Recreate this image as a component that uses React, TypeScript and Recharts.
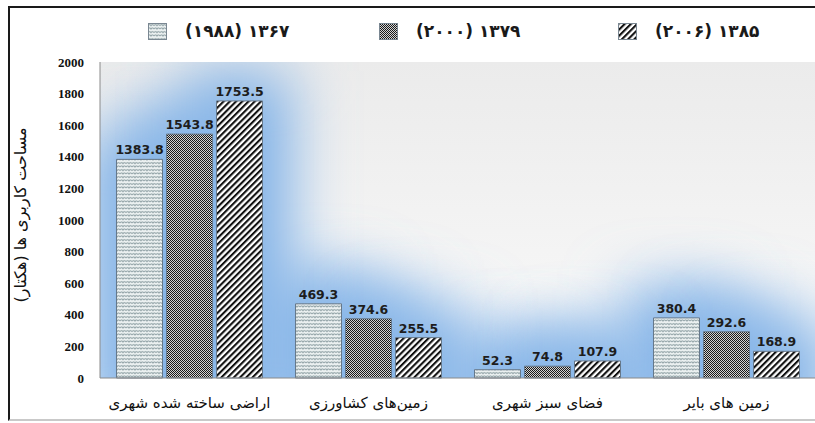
import { BarChart, Bar, XAxis, YAxis, CartesianGrid, LabelList } from 'recharts';

const categories = ['اراضی ساخته شده شهری', 'زمین‌های کشاورزی', 'فضای سبز شهری', 'زمین های بایر'];
const values1367 = [1383.8, 469.3, 52.3, 380.4];
const values1379 = [1543.8, 374.6, 74.8, 292.6];
const values1385 = [1753.5, 255.5, 107.9, 168.9];
const seriesNames = ['(۱۹۸۸) ۱۳۶۷', '(۲۰۰۰) ۱۳۷۹', '(۲۰۰۶) ۱۳۸۵'];
const yTicks = [0, 200, 400, 600, 800, 1000, 1200, 1400, 1600, 1800, 2000];
const yLabel = 'مساحت کاربری ها (هکتار)';

const data = categories.map((name, i) => ({
  name,
  s1: values1367[i],
  s2: values1379[i],
  s3: values1385[i],
}));

const PATTERNS = ['url(#pWave)', 'url(#pCheck)', 'url(#pDiag)'];
const KEYS = ['s1', 's2', 's3'];

const W = 830;
const H = 423;
const MARGIN = { top: 62, right: 14, bottom: 15, left: 40 };
const Y_W = 60;
const X_H = 30;

// soft blue glow behind each bar (excel "glow" effect)
function GlowShape(props: any) {
  const { x, y, width, height, index, tag } = props;
  if (width == null || height == null) return null;
  const id = `glow-${tag}-${index}`;
  const pad = 200;
  return (
    <g>
      <defs>
        <filter id={id} filterUnits="userSpaceOnUse" x={x - pad} y={y - pad} width={width + pad * 2} height={height + pad * 2}>
          <feGaussianBlur stdDeviation={30} />
        </filter>
      </defs>
      <rect x={x - 30} y={y - 30} width={width + 60} height={height + 80} fill="#86b5e8" filter={`url(#${id})`} />
    </g>
  );
}

function Swatch({ fill }: { fill: string }) {
  return (
    <svg width={19} height={17} style={{ display: 'block' }}>
      <defs>
        <Patterns />
      </defs>
      <rect x={0.5} y={0.5} width={18} height={16} fill={fill} stroke="#7a8792" />
    </svg>
  );
}

function Patterns() {
  return (
    <>
      <pattern id="pWave" width={6} height={3.5} patternUnits="userSpaceOnUse">
        <rect width={6} height={3.5} fill="#eef3f3" />
        <path d="M0 2.6 Q1.5 0.4 3 2.6 Q4.5 0.4 6 2.6" stroke="#7b8f94" strokeWidth={0.9} fill="none" />
      </pattern>
      <pattern id="pCheck" width={2} height={2} patternUnits="userSpaceOnUse">
        <rect width={2} height={2} fill="#d2d2d2" />
        <rect width={1} height={1} fill="#1a1a1a" />
        <rect x={1} y={1} width={1} height={1} fill="#1a1a1a" />
      </pattern>
      <pattern id="pDiag" width={4.4} height={4.4} patternUnits="userSpaceOnUse" patternTransform="rotate(45)">
        <rect width={4.4} height={4.4} fill="#ffffff" />
        <rect width={2.1} height={4.4} fill="#111111" />
      </pattern>
    </>
  );
}

const legendLeft = [148, 379, 618];

export default function App() {
  const plotClip = `inset(${MARGIN.top}px ${MARGIN.right}px ${MARGIN.bottom + X_H}px ${MARGIN.left + Y_W}px)`;
  return (
    <div style={{ position: 'absolute', left: 0, top: 0, width: 815, height: 423, overflow: 'hidden', background: '#fff' }}>
      <div
        style={{
          position: 'absolute',
          left: 8,
          top: 6,
          width: 820,
          height: 411,
          borderTop: '2px solid #1a1a1a',
          borderLeft: '2px solid #1a1a1a',
          borderBottom: '2px solid #c9c9c9',
        }}
      />
      {seriesNames.map((s, i) => (
        <div
          key={s}
          style={{ position: 'absolute', left: legendLeft[i], top: 21, display: 'flex', alignItems: 'center', gap: 18 }}
        >
          <Swatch fill={PATTERNS[i]} />
          <span style={{ fontFamily: 'DejaVu Sans', fontSize: 17, fontWeight: 600, color: '#1a1a1a', direction: 'ltr', whiteSpace: 'nowrap' }}>{s}</span>
        </div>
      ))}
      <div
        style={{
          position: 'absolute',
          left: 20,
          top: 215,
          transform: 'translate(-50%, -50%) rotate(-90deg)',
          fontFamily: 'DejaVu Sans',
          fontSize: 16,
          color: '#111',
          whiteSpace: 'nowrap',
          direction: 'rtl',
        }}
      >
        {yLabel}
      </div>

      {/* back layer: plot background and glow, clipped to the plot area */}
      <div style={{ position: 'absolute', left: 0, top: 0, clipPath: plotClip }}>
        <BarChart width={W} height={H} data={data} margin={MARGIN} barCategoryGap={16.5} barGap={4}>
          <defs>
            <linearGradient id="bgGrad" x1="0" y1="0" x2="0" y2="1">
              <stop offset="0%" stopColor="#ebebeb" />
              <stop offset="100%" stopColor="#fafafa" />
            </linearGradient>
          </defs>
          <CartesianGrid horizontal={false} vertical={false} fill="url(#bgGrad)" />
          <XAxis dataKey="name" height={X_H} tick={false} axisLine={false} tickLine={false} />
          <YAxis domain={[0, 2000]} ticks={yTicks} width={Y_W} tick={false} axisLine={false} tickLine={false} />
          {KEYS.map((k) => (
            <Bar key={'g' + k} dataKey={k} isAnimationActive={false} shape={(p: any) => <GlowShape {...p} tag={k} />} />
          ))}
        </BarChart>
      </div>

      {/* front layer: axes, bars, labels */}
      <div style={{ position: 'absolute', left: 0, top: 0 }}>
        <BarChart width={W} height={H} data={data} margin={MARGIN} barCategoryGap={16.5} barGap={4}>
          <defs>
            <Patterns />
          </defs>
          <XAxis
            dataKey="name"
            height={X_H}
            tick={{ fontFamily: 'DejaVu Sans', fontSize: 15, fill: '#111' }}
            axisLine={{ stroke: '#8a8a8a' }}
            tickLine={false}
            tickSize={0}
            tickMargin={19}
          />
          <YAxis
            domain={[0, 2000]}
            ticks={yTicks}
            interval={0}
            width={Y_W}
            tick={{ fontFamily: 'Liberation Serif', fontWeight: 'bold', fontSize: 13, fill: '#111' }}
            axisLine={{ stroke: '#8a8a8a' }}
            tickLine={false}
            tickSize={0}
            tickMargin={16}
          />
          {KEYS.map((k, i) => (
            <Bar key={k} dataKey={k} name={seriesNames[i]} fill={PATTERNS[i]} stroke="#66788a" strokeWidth={1} isAnimationActive={false}>
              <LabelList
                dataKey={k}
                position="top"
                offset={5}
                style={{ fontFamily: 'DejaVu Sans', fontWeight: 'bold', fontSize: 12.5, fill: '#1d1d1d' }}
              />
            </Bar>
          ))}
        </BarChart>
      </div>
    </div>
  );
}
